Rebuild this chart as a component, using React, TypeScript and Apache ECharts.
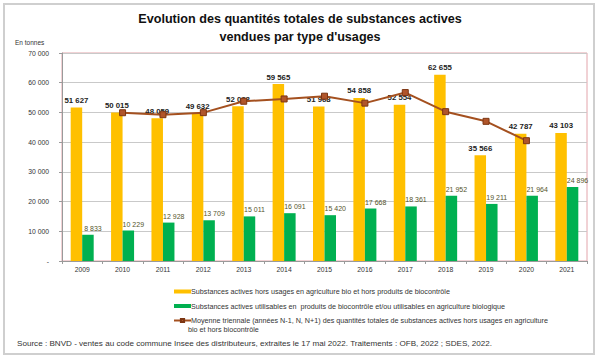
import React, { useEffect, useRef } from "react";
import * as echarts from "echarts";

const years = ["2009", "2010", "2011", "2012", "2013", "2014", "2015", "2016", "2017", "2018", "2019", "2020", "2021"];
const horsBio = [51627, 50015, 48059, 49632, 52088, 59565, 51968, 54858, 52554, 62655, 35566, 42787, 43103];
const bioControle = [8833, 10229, 12928, 13709, 15011, 16091, 15420, 17668, 18361, 21952, 19211, 21964, 24896];
const moyenne = [null, 49900, 49235, 49926, 53762, 54540, 55464, 53127, 56689, 50258, 47003, 40485, null];

const nameYellow = "Substances actives hors usages en agriculture bio et hors produits de biocontrôle";
const nameGreen = "Substances actives utilisables en  produits de biocontrôle et/ou utilisables en agriculture biologique";
const nameLine = "Moyenne triennale (années N-1, N, N+1) des quantités totales de substances actives hors usages en agriculture";

const fmt = (v: number) => (v === 0 ? "-" : String(v).replace(/\B(?=(\d{3})+(?!\d))/g, " "));
const FONT = "Liberation Sans, Arial, sans-serif";

export default function App() {
  const ref = useRef<HTMLDivElement>(null);
  useEffect(() => {
    document.body.style.margin = "0";
    const chart = echarts.init(ref.current!, null, { renderer: "svg" });
    chart.setOption({
      animation: false,
      backgroundColor: "#ffffff",
      textStyle: { fontFamily: FONT },
      grid: { left: 62, right: 18, top: 53, bottom: 98, show: true, borderColor: "#e3a4ab", borderWidth: 1, backgroundColor: "transparent" },
      graphic: [
        { type: "rect", shape: { x: 4, y: 4, width: 590, height: 350 }, style: { fill: "none", stroke: "#cfcfcf", lineWidth: 2 } },
        { type: "text", x: 300, y: 12, style: { text: "Evolution des quantités totales de substances actives", fontSize: 12.6, fontWeight: "bold", fill: "#111", textAlign: "center", fontFamily: FONT } },
        { type: "text", x: 300, y: 30, style: { text: "vendues par type d'usages", fontSize: 12.6, fontWeight: "bold", fill: "#111", textAlign: "center", fontFamily: FONT } },
        { type: "text", x: 15, y: 39, style: { text: "En tonnes", fontSize: 6.5, fill: "#333", fontFamily: FONT } },
        { type: "text", x: 188, y: 326, style: { text: "bio et hors biocontrôle", fontSize: 7.2, fill: "#333", fontFamily: FONT } },
        { type: "text", x: 17, y: 339, style: { text: "Source : BNVD - ventes au code commune Insee des distributeurs, extraites le 17 mai 2022. Traitements : OFB, 2022 ; SDES, 2022.", fontSize: 8.1, fill: "#333", fontFamily: FONT } },
      ],
      legend: {
        orient: "vertical",
        left: 168,
        top: 283,
        itemWidth: 17,
        itemHeight: 4,
        itemGap: 7.5,
        textStyle: { fontSize: 7.2, color: "#333", fontFamily: FONT, padding: [0, 0, 0, -5] },
        data: [
          { name: nameYellow, icon: "rect" },
          { name: nameGreen, icon: "rect" },
          { name: nameLine },
        ],
      },
      xAxis: {
        type: "category",
        data: years,
        axisLine: { lineStyle: { color: "#9a9a9a" } },
        axisTick: { show: true, length: 3, lineStyle: { color: "#9a9a9a" } },
        axisLabel: { fontSize: 6.8, color: "#333", margin: 5 },
      },
      yAxis: {
        type: "value",
        min: 0,
        max: 70000,
        interval: 10000,
        axisLine: { show: true, lineStyle: { color: "#9a9a9a" } },
        axisTick: { show: true, length: 3, lineStyle: { color: "#9a9a9a" } },
        splitLine: { lineStyle: { color: "#c9c9c9" } },
        axisLabel: { fontSize: 6.8, color: "#333", margin: 13, formatter: (v: number) => fmt(v) },
      },
      series: [
        {
          name: nameYellow,
          type: "bar",
          data: horsBio,
          barWidth: 11.5,
          barGap: "0%",
          itemStyle: { color: "#FFC000" },
          label: { show: true, position: "top", distance: 3, fontSize: 7.8, fontWeight: "bold", color: "#222", formatter: (p: any) => fmt(p.value) },
        },
        {
          name: nameGreen,
          type: "bar",
          data: bioControle,
          barWidth: 11.5,
          barGap: "0%",
          itemStyle: { color: "#00B050" },
          label: { show: true, position: "top", distance: 3, offset: [5, 0], fontSize: 7, color: "#55552b", formatter: (p: any) => fmt(p.value) },
        },
        {
          name: nameLine,
          type: "line",
          data: moyenne,
          symbol: "rect",
          symbolSize: 6,
          lineStyle: { color: "#A4501F", width: 2 },
          itemStyle: { color: "#B0552A", borderColor: "#7c3512", borderWidth: 1 },
          z: 5,
        },
      ],
    });
    return () => chart.dispose();
  }, []);
  return <div ref={ref} style={{ width: 605, height: 359 }} />;
}
